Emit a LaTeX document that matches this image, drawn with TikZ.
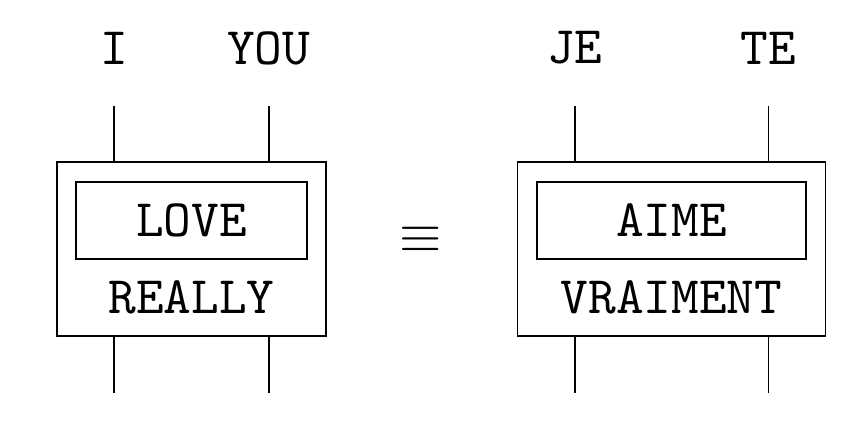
\RequirePackage{fix-cm}
\documentclass[tikz,border=0pt]{standalone}
\usepackage{fontspec}
\newfontfamily\wordfont{lmmono10-regular}[Extension=.otf]
\usetikzlibrary{positioning}

\begin{document}
\begin{tikzpicture}[x=0.02cm,y=-0.02cm,line width=0.9pt,
    word/.style={font=\wordfont\fontsize{30}{36}\selectfont, inner sep=0pt},
    outerbox/.style={draw, inner sep=0pt, minimum height=174*0.02cm},
    innerbox/.style={draw, inner sep=0pt, minimum height=77*0.02cm}]
  \newcommand*{\WireIn}{58}
  \newcommand*{\WireTop}{106}
  \newcommand*{\WireBot}{393}
  \useasboundingbox (0,0) rectangle (868,432);
  % left side
  \node[outerbox, minimum width=269*0.02cm] (lbox) at (191.5,249) {};
  \node[innerbox, minimum width=231*0.02cm] (lin) at (191.5,220.5) {};
  \node[word] (love) at (lin) {LOVE};
  \node[word] (really) at (191.5,297) {REALLY};
  \coordinate (lwa) at ([xshift=\WireIn*0.02cm]lbox.north west);
  \coordinate (lwb) at ([xshift=-\WireIn*0.02cm]lbox.north east);
  \node[word] (i) at (lwa |- 0,48) {I};
  \node[word] (you) at (lwb |- 0,48) {YOU};
  \coordinate (ia) at (lwa |- 0,\WireTop);
  \coordinate (ib) at (lwa |- 0,\WireBot);
  \coordinate (youa) at (lwb |- 0,\WireTop);
  \coordinate (youb) at (lwb |- 0,\WireBot);
  \draw (ia) -- (ia |- lbox.north);
  \draw (ib) -- (ib |- lbox.south);
  \draw (youa) -- (youa |- lbox.north);
  \draw (youb) -- (youb |- lbox.south);
  % equivalence
  \node[font=\fontsize{31}{36}\selectfont, inner sep=0pt] (eq) at (421,240) {$\equiv$};
  % right side
  \node[outerbox, minimum width=308*0.02cm] (rbox) at (671.5,249) {};
  \node[innerbox, minimum width=269*0.02cm] (rin) at (671.5,220.5) {};
  \node[word] (aime) at (rin) {AIME};
  \node[word] (vraiment) at (671.5,297) {VRAIMENT};
  \coordinate (rwa) at ([xshift=\WireIn*0.02cm]rbox.north west);
  \coordinate (rwb) at ([xshift=-\WireIn*0.02cm]rbox.north east);
  \node[word] (je) at (rwa |- 0,48) {JE};
  \node[word] (te) at (rwb |- 0,48) {TE};
  \coordinate (jea) at (rwa |- 0,\WireTop);
  \coordinate (jeb) at (rwa |- 0,\WireBot);
  \coordinate (tea) at (rwb |- 0,\WireTop);
  \coordinate (teb) at (rwb |- 0,\WireBot);
  \draw (jea) -- (jea |- rbox.north);
  \draw (jeb) -- (jeb |- rbox.south);
  \draw (tea) -- (tea |- rbox.north);
  \draw (teb) -- (teb |- rbox.south);
\end{tikzpicture}
\end{document}
